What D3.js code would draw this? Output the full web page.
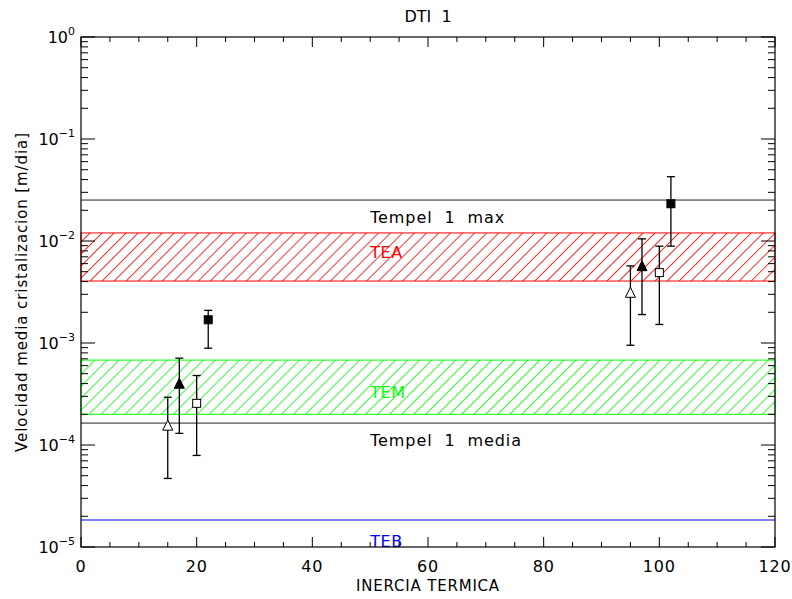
<!DOCTYPE html>
<html>
<head>
<meta charset="utf-8">
<script src="https://cdn.jsdelivr.net/npm/d3@7"></script>
<style>
  body { margin: 0; background: #fff; }
  svg text { font-family: "DejaVu Sans", sans-serif; }
</style>
</head>
<body>
<div id="chart"></div>
<script>
// datos
const xTicks = [0, 20, 40, 60, 80, 100, 120];
const yDecades = [1e-5, 1e-4, 1e-3, 1e-2, 1e-1, 1];
const yExponents = [-5, -4, -3, -2, -1, 0];

// series: x, valor, error inferior, error superior
const openTriX = [15, 95];
const openTriY = [1.53e-4, 3.07e-3];
const openTriLo = [4.7e-5, 9.5e-4];
const openTriHi = [2.94e-4, 5.7e-3];

const fillTriX = [17, 97];
const fillTriY = [3.94e-4, 5.6e-3];
const fillTriLo = [1.3e-4, 1.9e-3];
const fillTriHi = [7.1e-4, 1.05e-2];

const openSqX = [20, 100];
const openSqY = [2.56e-4, 4.9e-3];
const openSqLo = [7.9e-5, 1.52e-3];
const openSqHi = [4.8e-4, 8.9e-3];

const fillSqX = [22, 102];
const fillSqY = [1.69e-3, 2.32e-2];
const fillSqLo = [8.9e-4, 8.9e-3];
const fillSqHi = [2.09e-3, 4.27e-2];

// bandas y lineas de referencia
const bandNames = ['TEA', 'TEM'];
const bandLo = [4.05e-3, 2.0e-4];
const bandHi = [1.2e-2, 6.8e-4];
const bandLabelAt = [6.8e-3, 2.9e-4];
const bandColors = ['#ff0000', '#00ff00'];

const refNames = ['Tempel 1 max', 'Tempel 1 media'];
const refValues = [2.52e-2, 1.64e-4];
const tebValue = 1.84e-5;

const width = 792, height = 599;
const margin = { top: 37, right: 17, bottom: 52, left: 81 };
const W = width - margin.left - margin.right;
const H = height - margin.top - margin.bottom;

const svg = d3.select('#chart').append('svg')
    .attr('width', width)
    .attr('height', height);

const defs = svg.append('defs');
bandColors.forEach((c, i) => {
    const p = defs.append('pattern')
        .attr('id', 'hatch' + i)
        .attr('patternUnits', 'userSpaceOnUse')
        .attr('width', 8.5)
        .attr('height', 8.5)
        .attr('patternTransform', 'rotate(45)');
    p.append('line')
        .attr('x1', 0).attr('y1', 0).attr('x2', 0).attr('y2', 8.5)
        .attr('stroke', c).attr('stroke-width', 1.6);
});

const x = d3.scaleLinear().domain([0, 120]).range([0, W]);
const y = d3.scaleLog().domain([1e-5, 1]).range([H, 0]);

const g = svg.append('g').attr('transform', `translate(${margin.left},${margin.top})`);

// bandas rayadas
bandNames.forEach((name, i) => {
    g.append('rect')
        .attr('x', 0).attr('width', W)
        .attr('y', y(bandHi[i])).attr('height', y(bandLo[i]) - y(bandHi[i]))
        .attr('fill', `url(#hatch${i})`)
        .attr('stroke', bandColors[i]).attr('stroke-width', 1);
    g.append('text')
        .attr('x', x(50)).attr('y', y(bandLabelAt[i]))
        .attr('fill', bandColors[i])
        .attr('font-size', 16)
        .attr('letter-spacing', 0.6)
        .text(name);
});

// lineas Tempel 1
refNames.forEach((name, i) => {
    g.append('line')
        .attr('x1', 0).attr('x2', W)
        .attr('y1', y(refValues[i])).attr('y2', y(refValues[i]))
        .attr('stroke', '#222').attr('stroke-width', 1);
    g.append('text')
        .attr('x', x(50)).attr('y', y(refValues[i]) + 23)
        .attr('fill', '#000')
        .attr('font-size', 16)
        .attr('letter-spacing', 0.9)
        .attr('xml:space', 'preserve')
        .text(name.replace(/ /g, '  '));
});

g.append('line')
    .attr('x1', 0).attr('x2', W)
    .attr('y1', y(tebValue)).attr('y2', y(tebValue))
    .attr('stroke', '#5555ff').attr('stroke-width', 1.5);
g.append('text')
    .attr('x', x(50)).attr('y', y(tebValue) + 27)
    .attr('fill', '#0000ff')
    .attr('font-size', 16)
    .attr('letter-spacing', 0.6)
    .text('TEB');

// ejes con marcas en los cuatro lados
g.append('rect').attr('width', W).attr('height', H)
    .attr('fill', 'none').attr('stroke', '#000').attr('stroke-width', 1.2);

const xMinor = d3.range(0, 121, 5);
xMinor.forEach(v => {
    const len = v % 20 === 0 ? 10 : 5;
    g.append('line').attr('x1', x(v)).attr('x2', x(v)).attr('y1', H).attr('y2', H - len).attr('stroke', '#000');
    g.append('line').attr('x1', x(v)).attr('x2', x(v)).attr('y1', 0).attr('y2', len).attr('stroke', '#000');
});
xTicks.forEach(v => {
    g.append('text')
        .attr('x', x(v)).attr('y', H + 25)
        .attr('text-anchor', 'middle')
        .attr('font-size', 16)
        .attr('letter-spacing', 0.8)
        .text(v);
});

yDecades.forEach((d, i) => {
    g.append('line').attr('x1', 0).attr('x2', 14).attr('y1', y(d)).attr('y2', y(d)).attr('stroke', '#000');
    g.append('line').attr('x1', W).attr('x2', W - 14).attr('y1', y(d)).attr('y2', y(d)).attr('stroke', '#000');
    if (i < yDecades.length - 1) {
        for (let k = 2; k <= 9; k++) {
            const v = d * k;
            g.append('line').attr('x1', 0).attr('x2', 7).attr('y1', y(v)).attr('y2', y(v)).attr('stroke', '#000');
            g.append('line').attr('x1', W).attr('x2', W - 7).attr('y1', y(v)).attr('y2', y(v)).attr('stroke', '#000');
        }
    }
    const t = g.append('text')
        .attr('x', -6).attr('y', y(d) + 6)
        .attr('text-anchor', 'end')
        .attr('font-size', 16)
        .text('10');
    t.append('tspan')
        .attr('dy', -8)
        .attr('font-size', 11)
        .text(yExponents[i] === 0 ? '0' : '\u2212' + (-yExponents[i]));
});

// titulos
svg.append('text')
    .attr('x', margin.left + W / 2).attr('y', 22)
    .attr('text-anchor', 'middle')
    .attr('font-size', 16)
    .attr('xml:space', 'preserve')
    .text('DTI  1');
svg.append('text')
    .attr('x', margin.left + W / 2).attr('y', 591)
    .attr('text-anchor', 'middle')
    .attr('font-size', 15)
    .attr('letter-spacing', 0.8)
    .text('INERCIA TERMICA');
svg.append('text')
    .attr('transform', `translate(27,${margin.top + H / 2}) rotate(-90)`)
    .attr('text-anchor', 'middle')
    .attr('font-size', 15)
    .attr('letter-spacing', 0.9)
    .text('Velocidad media cristalizacion [m/dia]');

// barras de error y simbolos
function drawSeries(xs, ys, los, his, shape, filled) {
    xs.forEach((xv, i) => {
        const px = x(xv);
        g.append('line').attr('x1', px).attr('x2', px)
            .attr('y1', y(los[i])).attr('y2', y(his[i]))
            .attr('stroke', '#000').attr('stroke-width', 1.3);
        [los[i], his[i]].forEach(v => {
            g.append('line').attr('x1', px - 4).attr('x2', px + 4)
                .attr('y1', y(v)).attr('y2', y(v))
                .attr('stroke', '#000').attr('stroke-width', 1.3);
        });
        const py = y(ys[i]);
        if (shape === 'tri') {
            g.append('path')
                .attr('d', `M${px},${py - 6}L${px + 5},${py + 4}L${px - 5},${py + 4}Z`)
                .attr('fill', filled ? '#000' : '#fff')
                .attr('stroke', '#000').attr('stroke-width', 1);
        } else {
            g.append('rect')
                .attr('x', px - 4).attr('y', py - 4).attr('width', 8).attr('height', 8)
                .attr('fill', filled ? '#000' : '#fff')
                .attr('stroke', '#000').attr('stroke-width', 1);
        }
    });
}
drawSeries(openTriX, openTriY, openTriLo, openTriHi, 'tri', false);
drawSeries(fillTriX, fillTriY, fillTriLo, fillTriHi, 'tri', true);
drawSeries(openSqX, openSqY, openSqLo, openSqHi, 'sq', false);
drawSeries(fillSqX, fillSqY, fillSqLo, fillSqHi, 'sq', true);
</script>
</body>
</html>
